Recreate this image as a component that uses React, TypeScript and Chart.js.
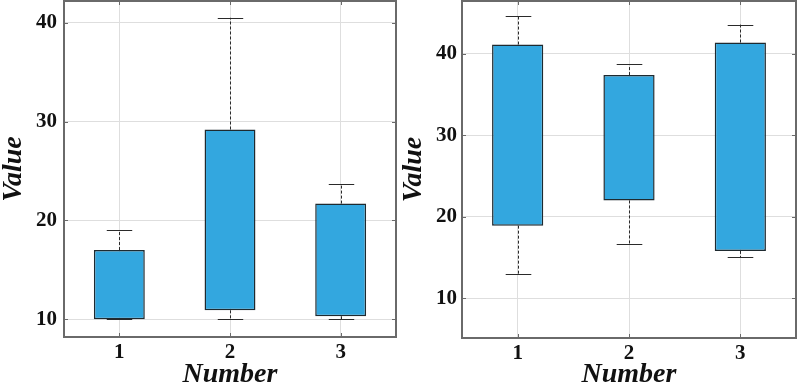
import React, { useEffect, useRef } from "react";
import { Chart, registerables } from "chart.js";

Chart.register(...registerables);

const categories = ["1", "2", "3"];

const leftLow = [10, 10, 10];
const leftQ1 = [10, 10.9, 10.3];
const leftQ3 = [17, 29.2, 21.7];
const leftHigh = [19, 40.5, 23.7];
const leftTicks = [10, 20, 30, 40];

const rightLow = [12.95, 16.6, 15.0];
const rightQ1 = [18.9, 22.0, 15.8];
const rightQ3 = [41.15, 37.4, 41.4];
const rightHigh = [44.7, 38.7, 43.6];
const rightTicks = [10, 20, 30, 40];

const FONT = "'Liberation Serif', 'Times New Roman', serif";

type PanelProps = {
  low: number[];
  q1: number[];
  q3: number[];
  high: number[];
  ticks: number[];
  yMin: number;
  yMax: number;
  axisWidth: number;
  axisHeight: number;
  tickPad: number;
  left: number;
};

function Panel(p: PanelProps) {
  const ref = useRef<HTMLCanvasElement | null>(null);
  useEffect(() => {
    if (!ref.current) return;
    const whiskers = {
      id: "whiskers",
      beforeDatasetsDraw(chart: any) {
        const { ctx, scales } = chart;
        const x = scales.x;
        const y = scales.y;
        const meta = chart.getDatasetMeta(0);
        ctx.save();
        ctx.strokeStyle = "#2a2a2a";
        ctx.lineWidth = 1;
        p.low.forEach((_, i) => {
          const cx = Math.round(x.getPixelForValue(i)) + 0.5;
          const bw = meta.data[i].width;
          const cap = bw / 4;
          ctx.setLineDash([3, 2]);
          ctx.beginPath();
          ctx.moveTo(cx, y.getPixelForValue(p.q3[i]));
          ctx.lineTo(cx, y.getPixelForValue(p.high[i]));
          ctx.moveTo(cx, y.getPixelForValue(p.q1[i]));
          ctx.lineTo(cx, y.getPixelForValue(p.low[i]));
          ctx.stroke();
          ctx.setLineDash([]);
          ctx.beginPath();
          const yh = Math.round(y.getPixelForValue(p.high[i])) + 0.5;
          const yl = Math.round(y.getPixelForValue(p.low[i])) + 0.5;
          ctx.moveTo(cx - cap, yh);
          ctx.lineTo(cx + cap, yh);
          ctx.moveTo(cx - cap, yl);
          ctx.lineTo(cx + cap, yl);
          ctx.stroke();
        });
        ctx.restore();
      },
    };
    const frame = {
      id: "frame",
      afterDraw(chart: any) {
        const { ctx, chartArea: a, scales } = chart;
        ctx.save();
        ctx.strokeStyle = "#6a6a6a";
        ctx.lineWidth = 1;
        ctx.beginPath();
        p.ticks.forEach((v) => {
          const yy = Math.round(scales.y.getPixelForValue(v)) + 0.5;
          ctx.moveTo(a.left, yy);
          ctx.lineTo(a.left + 4, yy);
          ctx.moveTo(a.right, yy);
          ctx.lineTo(a.right - 4, yy);
        });
        categories.forEach((_, i) => {
          const xx = Math.round(scales.x.getPixelForValue(i)) + 0.5;
          ctx.moveTo(xx, a.bottom);
          ctx.lineTo(xx, a.bottom - 4);
          ctx.moveTo(xx, a.top);
          ctx.lineTo(xx, a.top + 4);
        });
        ctx.stroke();
        ctx.lineWidth = 2;
        ctx.strokeRect(a.left, a.top, a.right - a.left, a.bottom - a.top);
        ctx.restore();
      },
    };
    const chart = new Chart(ref.current, {
      type: "bar",
      data: {
        labels: categories,
        datasets: [
          {
            data: p.q1.map((v, i) => [v, p.q3[i]]) as any,
            backgroundColor: "#33a7df",
            borderColor: "#1e2a30",
            borderWidth: 1.5,
            borderSkipped: false,
            barPercentage: 0.46,
            categoryPercentage: 1,
          },
        ],
      },
      options: {
        animation: false,
        responsive: false,
        devicePixelRatio: 1,
        layout: { padding: { top: 1, right: 4, left: 0, bottom: 0 } },
        plugins: { legend: { display: false }, tooltip: { enabled: false } },
        scales: {
          x: {
            type: "category",
            offset: true,
            grid: { offset: false, color: "#dedede", drawTicks: false },
            border: { display: false },
            ticks: {
              color: "#111",
              padding: 3,
              font: { family: FONT, size: 21, weight: "bold" },
            },
            title: {
              display: true,
              text: "Number",
              color: "#111",
              padding: 0,
              font: { family: FONT, size: 28, weight: "bold", style: "italic", lineHeight: 1 },
            },
            afterFit(s: any) {
              s.height = p.axisHeight;
              s.paddingLeft = 0;
              s.paddingRight = 0;
            },
          },
          y: {
            min: p.yMin,
            max: p.yMax,
            grid: { color: "#dedede", drawTicks: false },
            border: { display: false },
            afterBuildTicks(s: any) {
              s.ticks = p.ticks.map((v) => ({ value: v }));
            },
            ticks: {
              color: "#111",
              padding: p.tickPad,
              font: { family: FONT, size: 21, weight: "bold" },
            },
            title: {
              display: true,
              text: "Value",
              color: "#111",
              padding: 0,
              font: { family: FONT, size: 28, weight: "bold", style: "italic", lineHeight: 1 },
            },
            afterFit(s: any) {
              s.width = p.axisWidth;
              s.paddingTop = 0;
              s.paddingBottom = 0;
            },
          },
        },
      } as any,
      plugins: [whiskers, frame],
    });
    return () => chart.destroy();
  }, []);
  return (
    <canvas
      ref={ref}
      width={400}
      height={389}
      style={{ position: "absolute", left: p.left, top: 0, width: 400, height: 389 }}
    />
  );
}

export default function App() {
  return (
    <div
      style={{
        position: "absolute",
        left: 0,
        top: 0,
        width: 800,
        height: 389,
        background: "#fff",
        overflow: "hidden",
      }}
    >
      <Panel
        low={leftLow}
        q1={leftQ1}
        q3={leftQ3}
        high={leftHigh}
        ticks={leftTicks}
        yMin={8.2}
        yMax={42.2}
        axisWidth={64}
        axisHeight={52}
        tickPad={7}
        left={0}
      />
      <Panel
        low={rightLow}
        q1={rightQ1}
        q3={rightQ3}
        high={rightHigh}
        ticks={rightTicks}
        yMin={5.1}
        yMax={46.5}
        axisWidth={62}
        axisHeight={51}
        tickPad={5}
        left={400}
      />
    </div>
  );
}
